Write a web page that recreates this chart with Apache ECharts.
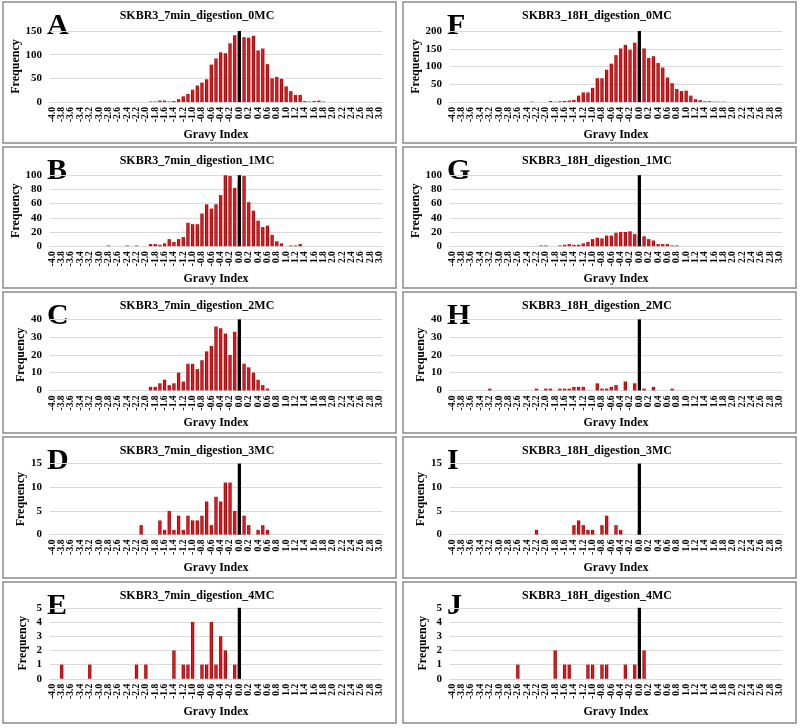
<!DOCTYPE html>
<html>
<head>
<meta charset="utf-8">
<script src="https://cdn.jsdelivr.net/npm/echarts@6/dist/echarts.min.js"></script>
<style>
  html, body { margin: 0; padding: 0; background: #fff; }
  #chart { width: 800px; height: 728px; }
</style>
</head>
<body>
<div id="chart"></div>
<script>
// GRAVY index bins, -4.0 .. 3.0 step 0.1 (labels shown every other bin)
var gravy = ['-4.0','-3.9','-3.8','-3.7','-3.6','-3.5','-3.4','-3.3','-3.2','-3.1','-3.0','-2.9','-2.8','-2.7','-2.6','-2.5','-2.4','-2.3','-2.2','-2.1',
  '-2.0','-1.9','-1.8','-1.7','-1.6','-1.5','-1.4','-1.3','-1.2','-1.1','-1.0','-0.9','-0.8','-0.7','-0.6','-0.5','-0.4','-0.3','-0.2','-0.1',
  '0.0','0.1','0.2','0.3','0.4','0.5','0.6','0.7','0.8','0.9','1.0','1.1','1.2','1.3','1.4','1.5','1.6','1.7','1.8','1.9',
  '2.0','2.1','2.2','2.3','2.4','2.5','2.6','2.7','2.8','2.9','3.0'];

// frequencies per bin (index 0 = -4.0)
var min7_0MC = [0,0,0,0,0,0,0,0,0,0,0,0,0,0,0,0,0,0,0,0,0,
  1,1,3,3,1,2,6,12,17,26,35,41,48,79,92,105,103,124,141,145,137,136,140,109,113,80,50,53,49,33,23,15,15,2,1,2,3,1,
  0,0,0,0,0,0,0,0,0,0,0,0];
var min7_1MC = [0,0,0,0,0,0,0,0,0,0,0,0,1,0,0,0,1,0,1,0,0,
  3,3,2,4,10,6,10,13,33,31,31,46,59,53,59,72,100,99,82,90,99,62,50,36,27,29,16,7,4,0,1,1,3,
  0,0,0,0,0,0,0,0,0,0,0,0,0,0,0,0,0];
var min7_2MC = [0,0,0,0,0,0,0,0,0,0,0,0,0,0,0,0,0,0,0,0,0,
  2,2,4,6,3,4,10,5,15,15,12,17,22,25,36,35,32,20,33,30,15,13,10,6,3,1,
  0,0,0,0,0,0,0,0,0,0,0,0,0,0,0,0,0,0,0,0,0,0,0,0];
var min7_3MC = [0,0,0,0,0,0,0,0,0,0,0,0,0,0,0,0,0,0,0,2,0,0,0,
  3,1,5,1,4,1,4,3,3,4,7,2,8,7,11,11,5,5,4,2,0,1,2,1,
  0,0,0,0,0,0,0,0,0,0,0,0,0,0,0,0,0,0,0,0,0,0,0,0];
var min7_4MC = [0,0,1,0,0,0,0,0,1,0,0,0,0,0,0,0,0,0,1,0,1,0,0,0,0,0,
  2,0,1,1,4,0,1,1,4,1,3,2,0,1,1,
  0,0,0,0,0,0,0,0,0,0,0,0,0,0,0,0,0,0,0,0,0,0,0,0,0,0,0,0,0,0];
var h18_0MC = [0,0,0,0,0,0,0,0,0,0,0,0,0,0,0,0,0,1,0,0,0,
  3,1,2,3,4,6,18,27,27,40,67,67,91,108,132,151,161,147,167,160,151,124,129,110,97,69,53,37,31,32,18,8,5,2,2,1,1,1,
  0,0,0,0,0,0,0,0,0,0,0,0];
var h18_1MC = [0,0,0,0,0,0,0,0,0,0,0,0,0,0,0,0,0,0,0,1,1,0,0,
  1,2,3,2,2,4,6,10,12,11,15,15,19,20,20,21,17,15,14,10,8,3,3,3,1,1,
  0,0,0,0,0,0,0,0,0,0,0,0,0,0,0,0,0,0,0,0,0,0];
var h18_2MC = [0,0,0,0,0,0,0,0,1,0,0,0,0,0,0,0,0,0,1,0,1,1,0,
  1,1,1,2,2,2,0,0,4,1,1,2,3,0,5,0,4,0,1,0,2,0,0,0,1,
  0,0,0,0,0,0,0,0,0,0,0,0,0,0,0,0,0,0,0,0,0,0,0];
var h18_3MC = [0,0,0,0,0,0,0,0,0,0,0,0,0,0,0,0,0,0,1,0,0,0,0,0,0,0,
  2,3,2,1,1,0,2,4,0,2,1,0,0,0,1,
  0,0,0,0,0,0,0,0,0,0,0,0,0,0,0,0,0,0,0,0,0,0,0,0,0,0,0,0,0,0];
var h18_4MC = [0,0,0,0,0,0,0,0,0,0,0,0,0,0,1,0,0,0,0,0,0,0,
  2,0,1,1,0,0,0,1,1,0,1,1,0,0,0,1,0,1,0,2,
  0,0,0,0,0,0,0,0,0,0,0,0,0,0,0,0,0,0,0,0,0,0,0,0,0,0,0,0,0];

var titles = ['SKBR3_7min_digestion_0MC','SKBR3_7min_digestion_1MC','SKBR3_7min_digestion_2MC','SKBR3_7min_digestion_3MC','SKBR3_7min_digestion_4MC',
  'SKBR3_18H_digestion_0MC','SKBR3_18H_digestion_1MC','SKBR3_18H_digestion_2MC','SKBR3_18H_digestion_3MC','SKBR3_18H_digestion_4MC'];
var letters = ['A','B','C','D','E','F','G','H','I','J'];
var seriesData = [min7_0MC, min7_1MC, min7_2MC, min7_3MC, min7_4MC, h18_0MC, h18_1MC, h18_2MC, h18_3MC, h18_4MC];
var yMax = [150, 100, 40, 15, 5, 200, 100, 40, 15, 5];
var yStep = [50, 20, 10, 5, 1, 50, 20, 10, 5, 1];

var serif = '"Liberation Serif", "Times New Roman", serif';
var redBar = {
  type: 'linear', x: 0, y: 0, x2: 1, y2: 0,
  colorStops: [
    { offset: 0, color: '#7a0000' },
    { offset: 0.35, color: '#e3161b' },
    { offset: 0.65, color: '#e3161b' },
    { offset: 1, color: '#7a0000' }
  ]
};

var chart = echarts.init(document.getElementById('chart'));
var grids = [], xAxes = [], yAxes = [], series = [], graphic = [];

for (var k = 0; k < 10; k++) {
  var col = k < 5 ? 0 : 1;
  var row = k % 5;
  var gLeft = col ? 450 : 50;
  var gTop = 31 + row * 144.2;
  var boxTop = 2 + row * 145;
  var boxLeft = col ? 403 : 3;

  grids.push({ left: gLeft, top: gTop, width: 332, height: 71 });

  xAxes.push({
    type: 'category', gridIndex: k, data: gravy,
    name: 'Gravy Index', nameLocation: 'middle', nameGap: 27,
    nameTextStyle: { fontFamily: serif, fontWeight: 'bold', fontSize: 12, color: '#000' },
    axisLine: { lineStyle: { color: '#d9d9d9' } },
    axisTick: { show: false },
    // every bin gets a slot, only even bins (every 0.2) are written
    axisLabel: { interval: 0, rotate: 90, margin: 5,
      formatter: function (v, i) { return i % 2 ? '' : v; },
      fontFamily: serif, fontWeight: 'bold', fontSize: 9.5, color: '#000' }
  });

  yAxes.push({
    type: 'value', gridIndex: k, min: 0, max: yMax[k], interval: yStep[k],
    name: 'Frequency', nameLocation: 'middle', nameGap: 21, nameRotate: 90,
    nameTextStyle: { fontFamily: serif, fontWeight: 'bold', fontSize: 12, color: '#000' },
    axisLine: { show: false }, axisTick: { show: false },
    splitLine: { lineStyle: { color: '#d9d9d9' } },
    axisLabel: { margin: 8, fontFamily: serif, fontWeight: 'bold', fontSize: 11, color: '#000' }
  });

  series.push({
    type: 'bar', xAxisIndex: k, yAxisIndex: k, data: seriesData[k],
    barWidth: '70%', barGap: '-100%', silent: true,
    itemStyle: { color: redBar }
  });
  series.push({
    type: 'bar', xAxisIndex: k, yAxisIndex: k, silent: true,
    data: gravy.map(function (g) { return g === '0.0' ? yMax[k] : '-'; }),
    barWidth: '70%', barGap: '-100%', z: 3,
    itemStyle: { color: '#000' }
  });

  graphic.push({
    type: 'rect', shape: { x: boxLeft, y: boxTop, width: 393, height: 141 },
    style: { fill: 'none', stroke: '#8a8a8a', lineWidth: 1.5 }, silent: true
  });
  graphic.push({
    type: 'text', x: boxLeft + 44, y: boxTop + 24,
    style: { text: letters[k], font: 'bold 30px ' + serif, fill: '#000', verticalAlign: 'middle' }
  });
  graphic.push({
    type: 'text', x: boxLeft + 194, y: boxTop + 14,
    style: { text: titles[k], font: 'bold 12px ' + serif, fill: '#000', align: 'center', verticalAlign: 'middle' }
  });
}

chart.setOption({
  animation: false,
  backgroundColor: '#fff',
  grid: grids,
  xAxis: xAxes,
  yAxis: yAxes,
  series: series,
  graphic: graphic
});
</script>
</body>
</html>
